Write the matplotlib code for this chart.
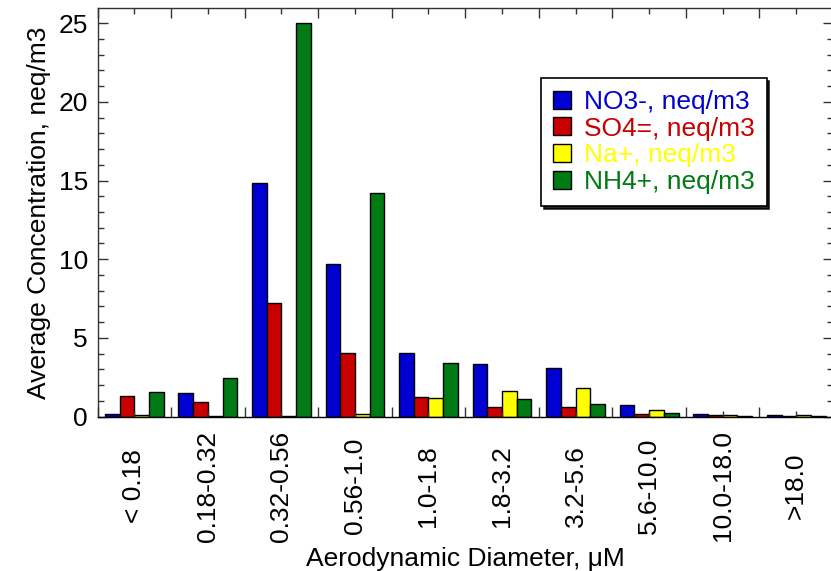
import matplotlib.pyplot as plt
from matplotlib.ticker import MultipleLocator, FixedLocator
import numpy as np

plt.rcParams['font.family'] = ['Liberation Sans', 'DejaVu Sans']

# size bins (aerodynamic diameter) and average concentrations, neq/m3
bins = ['< 0.18', '0.18-0.32', '0.32-0.56', '0.56-1.0', '1.0-1.8',
        '1.8-3.2', '3.2-5.6', '5.6-10.0', '10.0-18.0', '>18.0']
no3 = [0.17, 1.5, 14.83, 9.7, 4.03, 3.33, 3.11, 0.71, 0.14, 0.09]
so4 = [1.31, 0.9, 7.2, 4.02, 1.22, 0.63, 0.63, 0.18, 0.09, 0.01]
na = [0.08, 0.01, 0.05, 0.14, 1.16, 1.63, 1.8, 0.41, 0.07, 0.07]
nh4 = [1.58, 2.44, 25.0, 14.23, 3.41, 1.1, 0.78, 0.2, 0.05, 0.01]

series = [
    ('NO3-, neq/m3', no3, '#0000d2'),
    ('SO4=, neq/m3', so4, '#c80000'),
    ('Na+, neq/m3', na, '#ffff00'),
    ('NH4+, neq/m3', nh4, '#007a14'),
]

FS = 19

fig = plt.figure(figsize=(8.31, 5.71), dpi=100)
ax = fig.add_axes([97.5 / 831, 154.5 / 571, 735.5 / 831, 408.2 / 571])

x = np.arange(len(bins))
w = 0.2
for i, (name, vals, col) in enumerate(series):
    ax.bar(x + 0.1 + i * w, vals, width=w, align='edge', color=col,
           edgecolor='black', linewidth=1.0, label=name)

ax.set_xlim(0, len(bins))
ax.set_ylim(0, 25.95)

# boundaries get the long ticks, bin centres carry the labels
ax.xaxis.set_major_locator(FixedLocator(np.arange(0, len(bins) + 1)))
ax.xaxis.set_minor_locator(FixedLocator(x + 0.5))
ax.set_xticklabels([''] * (len(bins) + 1))
ax.set_xticklabels(bins, minor=True, rotation=90, va='center', ha='center')
ax.yaxis.set_major_locator(MultipleLocator(5))
ax.yaxis.set_minor_locator(MultipleLocator(1))

ax.tick_params(which='both', direction='in', top=True, right=True,
               color='#333333', width=1)
ax.tick_params(which='major', length=7)
ax.tick_params(which='minor', length=4)
ax.tick_params(axis='y', which='major', labelsize=FS, pad=7)
ax.tick_params(axis='x', which='minor', labelsize=FS, pad=50)

for s in ax.spines.values():
    s.set_color('#333333')
    s.set_linewidth(1)
ax.spines['bottom'].set_color('black')

ax.set_ylabel('Average Concentration, neq/m3', fontsize=FS, labelpad=5)
ax.set_xlabel('Aerodynamic Diameter, \u03bcM', fontsize=FS, labelpad=4)

leg = ax.legend(loc='upper left', bbox_to_anchor=(0.603, 0.829),
                borderaxespad=0, fontsize=FS, frameon=True, fancybox=False,
                shadow={'color': 'black', 'alpha': 0.85},
                handlelength=0.68, handleheight=0.68, handletextpad=0.5,
                labelspacing=0.1, borderpad=0.45)
leg.get_frame().set_edgecolor('black')
leg.get_frame().set_linewidth(1.2)
for txt, (_, _, col) in zip(leg.get_texts(), series):
    txt.set_color(col)

fig.savefig('out.png', dpi=100)
